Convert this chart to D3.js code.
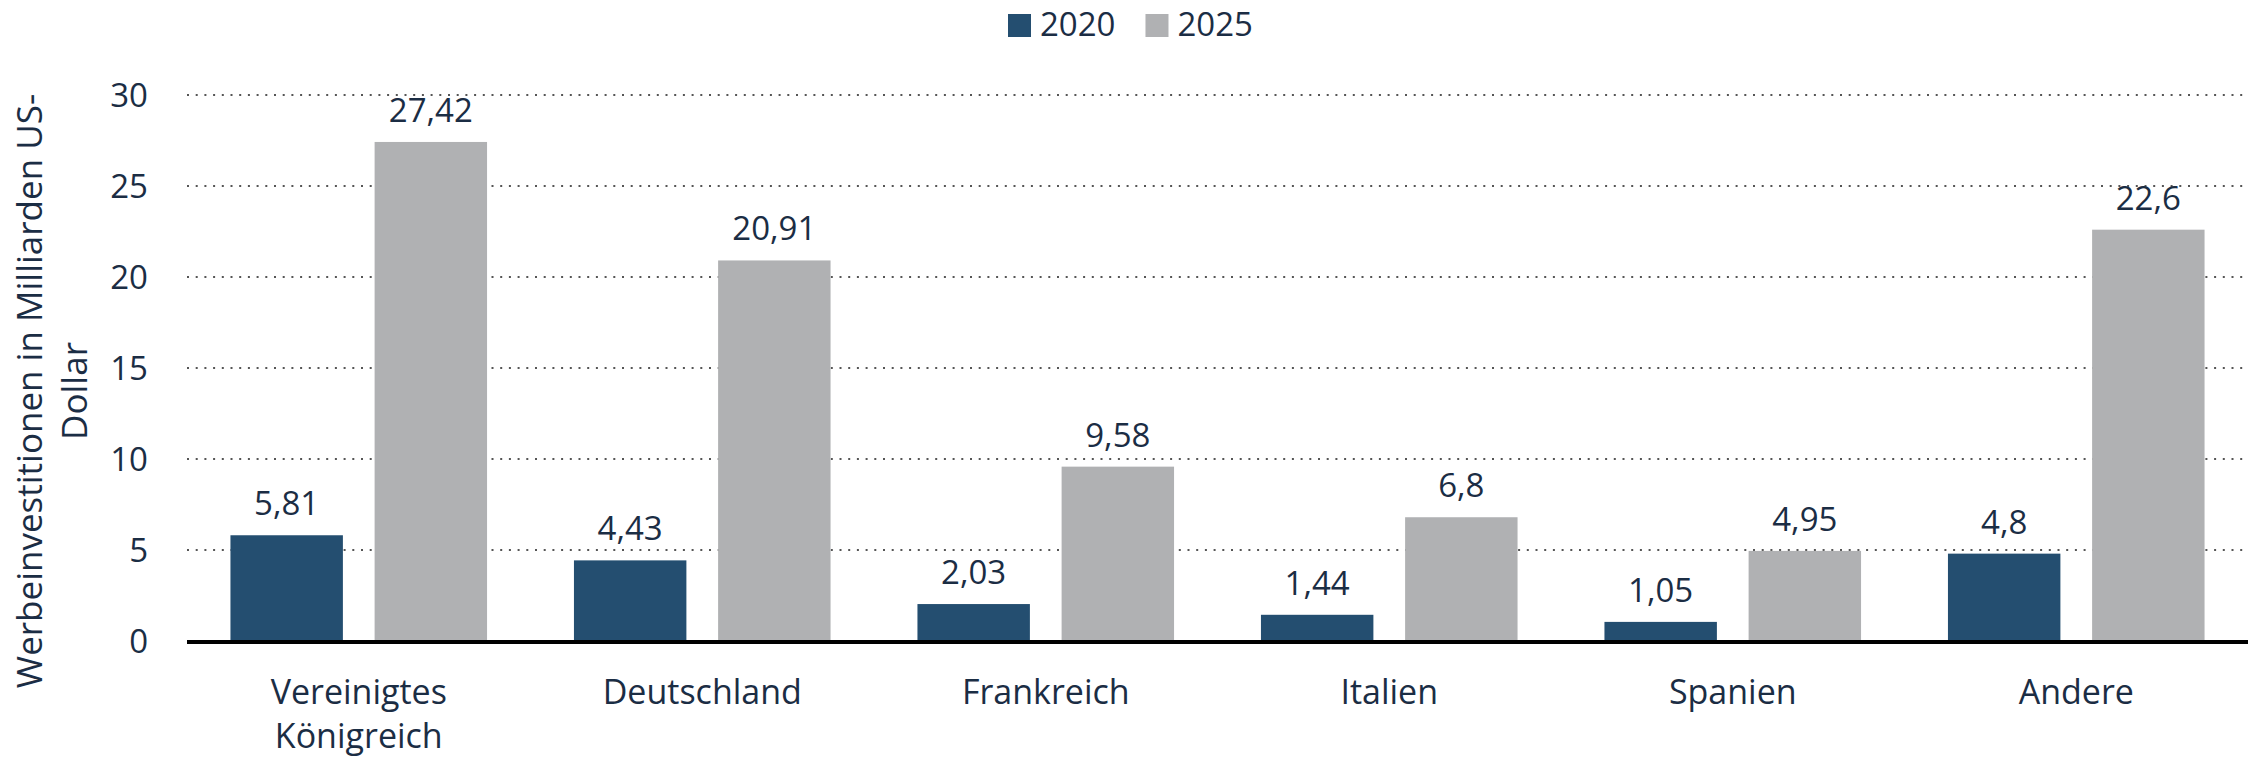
<!DOCTYPE html>
<html>
<head>
<meta charset="utf-8">
<script src="https://cdn.jsdelivr.net/npm/d3@7"></script>
<style>
  body { margin: 0; background: #fff; }
  text { font-family: "Open Sans", "Noto Sans", sans-serif; fill: #1b2d44; }
</style>
</head>
<body>
<svg id="chart" width="2257" height="758"></svg>
<script>
// data
var categories = ["Vereinigtes Königreich", "Deutschland", "Frankreich", "Italien", "Spanien", "Andere"];
var seriesNames = ["2020", "2025"];
var values2020 = [5.81, 4.43, 2.03, 1.44, 1.05, 4.8];
var values2025 = [27.42, 20.91, 9.58, 6.8, 4.95, 22.6];
var yTicks = [0, 5, 10, 15, 20, 25, 30];
var yTitleLines = ["Werbeinvestitionen in Milliarden US-", "Dollar"];
var colors = ["#244e70", "#b0b1b3"];

var svg = d3.select("#chart"),
    width = +svg.attr("width"),
    height = +svg.attr("height");
var margin = {top: 95, right: 9, bottom: 117, left: 187};
var fontSize = 33;

var rows = categories.map(function(c, i) {
  return {cat: c, vals: [values2020[i], values2025[i]]};
});

var x0 = d3.scaleBand()
    .domain(categories)
    .range([margin.left, width - margin.right])
    .paddingInner(0.253)
    .paddingOuter(0.1265);

var x1 = d3.scaleBand()
    .domain(seriesNames)
    .range([0, x0.bandwidth()])
    .paddingInner(0.22)
    .paddingOuter(0);

var y = d3.scaleLinear()
    .domain([0, 30])
    .range([height - margin.bottom, margin.top]);

function fmt(v) { return String(v).replace(".", ","); }

// gridlines (dotted)
svg.append("g")
  .selectAll("line")
  .data(yTicks.filter(function(d) { return d > 0; }))
  .enter().append("line")
    .attr("x1", margin.left)
    .attr("x2", width - margin.right)
    .attr("y1", function(d) { return y(d); })
    .attr("y2", function(d) { return y(d); })
    .attr("stroke", "#555")
    .attr("stroke-width", 2)
    .attr("stroke-dasharray", "2,6.7");

// y axis tick labels
var yAxis = d3.axisLeft(y).tickValues(yTicks).tickSize(0).tickPadding(0)
    .tickFormat(function(d) { return d; });
svg.append("g")
    .attr("transform", "translate(148,0)")
    .call(yAxis)
    .call(function(g) { g.select(".domain").remove(); })
    .selectAll("text")
      .attr("font-size", fontSize)
      .attr("font-family", null)
      .attr("fill", null)
      .attr("dy", "0.35em");

// bars
var groups = svg.append("g")
  .selectAll("g")
  .data(rows)
  .enter().append("g")
    .attr("transform", function(d) { return "translate(" + x0(d.cat) + ",0)"; });

groups.selectAll("rect")
  .data(function(d) { return d.vals.map(function(v, i) { return {s: seriesNames[i], v: v, i: i}; }); })
  .enter().append("rect")
    .attr("x", function(d) { return x1(d.s); })
    .attr("y", function(d) { return y(d.v); })
    .attr("width", x1.bandwidth())
    .attr("height", function(d) { return y(0) - y(d.v); })
    .attr("fill", function(d) { return colors[d.i]; });

groups.selectAll(".val")
  .data(function(d) { return d.vals.map(function(v, i) { return {s: seriesNames[i], v: v}; }); })
  .enter().append("text")
    .attr("class", "val")
    .attr("x", function(d) { return x1(d.s) + x1.bandwidth() / 2; })
    .attr("y", function(d) { return y(d.v) - 20; })
    .attr("text-anchor", "middle")
    .attr("font-size", fontSize)
    .text(function(d) { return fmt(d.v); });

// baseline
svg.append("line")
    .attr("x1", margin.left)
    .attr("x2", width - margin.right)
    .attr("y1", y(0) + 1)
    .attr("y2", y(0) + 1)
    .attr("stroke", "#000")
    .attr("stroke-width", 4);

// category labels, wrapped
var xAxis = d3.axisBottom(x0).tickSize(0).tickPadding(0);
var xg = svg.append("g")
    .attr("transform", "translate(0," + y(0) + ")")
    .call(xAxis);
xg.select(".domain").remove();
xg.selectAll("text")
    .attr("font-size", 34)
    .attr("font-family", null)
    .attr("fill", null)
    .attr("dy", null)
    .attr("y", 63)
    .each(function(d) {
      var t = d3.select(this);
      t.text(null);
      var words = d.split(" ");
      if (words.length > 1 && d.length > 14) {
        words.forEach(function(w, i) {
          t.append("tspan").attr("x", 0).attr("dy", i === 0 ? 0 : 44).text(w);
        });
      } else {
        t.text(d);
      }
    });

// y title
var yt = svg.append("text")
    .attr("transform", "translate(33,391) rotate(-90)")
    .attr("text-anchor", "middle")
    .attr("font-size", 35)
    .attr("dominant-baseline", "middle");
yTitleLines.forEach(function(l, i) {
  yt.append("tspan").attr("x", 0).attr("dy", i === 0 ? 0 : 45).text(l);
});

// legend
var legend = svg.append("g");
var lx = 1008;
seriesNames.forEach(function(s, i) {
  var item = legend.append("g").attr("transform", "translate(" + lx + ",0)");
  item.append("rect").attr("x", 0).attr("y", 14).attr("width", 23).attr("height", 23)
      .attr("fill", colors[i]);
  var t = item.append("text").attr("x", 32).attr("y", 36).attr("font-size", fontSize).text(s);
  lx += 32 + t.node().getComputedTextLength() + 30;
});
</script>
</body>
</html>
